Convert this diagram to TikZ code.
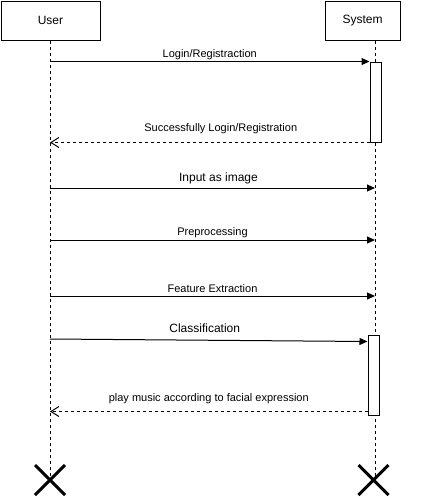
\documentclass[tikz,border=0pt]{standalone}
\usepackage{fontspec}
\setmainfont{Liberation Sans}
\usetikzlibrary{arrows.meta}
\tikzset{
    actorbox/.style={draw, line width=1pt, minimum height=39pt, inner sep=0pt, font=\fontsize{12}{14}\selectfont},
    lifeline/.style={line width=1pt, dash pattern=on 3pt off 3pt},
    actbar/.style={draw, fill=white, line width=1pt, minimum width=11pt, minimum height=80pt, inner sep=0pt},
    msg/.style={line width=1pt, -{Triangle[length=8pt,width=7pt]}},
    reply/.style={line width=1pt, dash pattern=on 3pt off 3pt, -{Straight Barb[length=8pt,width=10pt]}},
    lbl/.style={font=\fontsize{11}{13}\selectfont, inner sep=0pt},
    biglbl/.style={font=\fontsize{12}{14}\selectfont, inner sep=0pt},
    killmark/.style={line width=3pt}
}
\begin{document}
\begin{tikzpicture}[x=1pt, y=-1pt]
    \useasboundingbox (0,0) rectangle (426,498);
    %! --- Actors ---
    \node[actorbox, minimum width=99pt] (user) at (50.5,20.5) {User};
    \node[actorbox, minimum width=75pt] (system) at (362.5,20.5) {System};

    % Lifeline ends
    \coordinate (uEnd) at (50,480);
    \coordinate (sTop) at (375,40.5);
    \coordinate (sEnd) at (375,480);
    \coordinate (sKill) at (373.5,480);
    \draw[lifeline] (user.south -| uEnd) -- (uEnd);
    \draw[lifeline] (sTop) -- (sEnd);

    % Activation bars
    \node[actbar] (act1) at (375.5,102) {};
    \node[actbar] (act2) at (373.5,375) {};

    % Message points on the lifelines
    \foreach \y/\n in {188/in,240/pre,296/fe} {
        \coordinate (u\n) at (50,\y);
        \coordinate (s\n) at (375,\y);
    }
    \coordinate (c1) at ([yshift=-7pt]act2.north west);
    \coordinate (r2) at ([yshift=4pt]act2.south west);

    % Login
    \draw[msg] (uEnd |- act1.north) -- (act1.north west)
        node[lbl, midway, above=1pt] {Login/Registraction};
    \draw[reply] (act1.south west) -- (uEnd |- act1.south)
        node[lbl, midway, above=8pt, xshift=11pt] {Successfully Login/Registration};

    % Pipeline steps
    \draw[msg] (uin) -- (sin) node[biglbl, midway, above=4pt, xshift=6pt] {Input as image};
    \draw[msg] (upre) -- (spre) node[lbl, midway, above=2pt] {Preprocessing};
    \draw[msg] (ufe) -- (sfe) node[lbl, midway, above=3pt] {Feature Extraction};
    \draw[msg] (uEnd |- 0,339) -- (c1) node[biglbl, midway, above=7pt, xshift=-4pt] {Classification};
    \draw[reply] (r2) -- (uEnd |- r2)
        node[lbl, midway, above=7pt] {play music according to facial expression};

    %! --- Destruction ---
    \draw[killmark] (uEnd) +(-15,-15) -- +(15,15) (uEnd) +(-15,15) -- +(15,-15);
    \draw[killmark] (sKill) +(-15,-15) -- +(15,15) (sKill) +(-15,15) -- +(15,-15);
\end{tikzpicture}
\end{document}
